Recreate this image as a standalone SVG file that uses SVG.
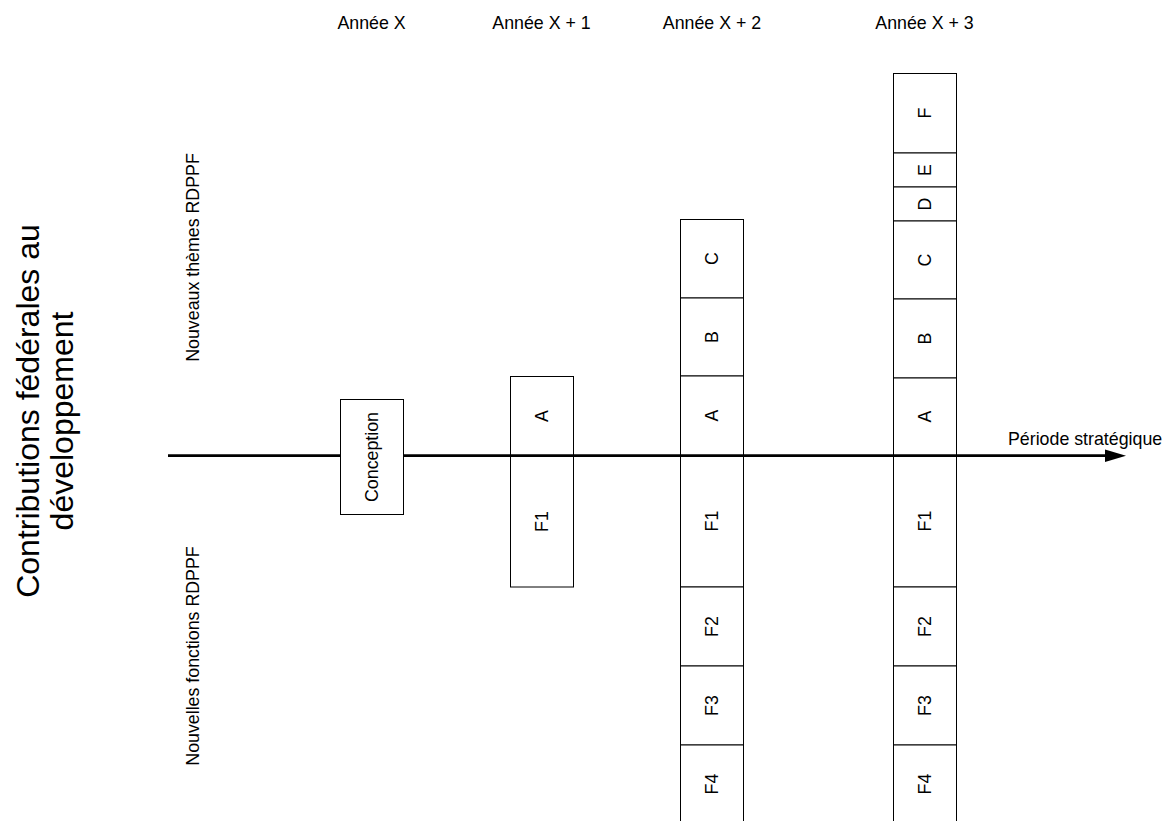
<svg xmlns="http://www.w3.org/2000/svg" width="1171" height="821" viewBox="0 0 1171 821">
<style>
  text { font-family: "Liberation Sans", Arial, sans-serif; fill: #000; }
  .lbl { font-size: 17.8px; text-anchor: middle; }
  .side { font-size: 17.8px; text-anchor: middle; }
  .big { font-size: 32px; text-anchor: middle; }
  .box { fill: #fff; stroke: #000; stroke-width: 1; }
  .axis { stroke: #000; stroke-width: 2.7; fill: none; }
</style>
<rect width="1171" height="821" fill="#fff"/>

<g id="title">
  <text class="big" transform="translate(38.5,411) rotate(-90)">Contributions fédérales au</text>
  <text class="big" transform="translate(73,421) rotate(-90)">développement</text>
</g>
<g id="side-labels">
  <text class="side" transform="translate(198.5,257.5) rotate(-90)">Nouveaux thèmes RDPPF</text>
  <text class="side" transform="translate(198.5,656) rotate(-90)">Nouvelles fonctions RDPPF</text>
</g>
<g id="years">
  <text class="lbl" x="371.5" y="29">Année X</text>
  <text class="lbl" x="541.5" y="29">Année X + 1</text>
  <text class="lbl" x="712" y="29">Année X + 2</text>
  <text class="lbl" x="924.5" y="29">Année X + 3</text>
</g>

<g id="col-x1">
  <g id="x1-A"><rect class="box" x="510.5" y="376.5" width="63" height="79.5"/><text class="lbl" transform="translate(548,416) rotate(-90)">A</text></g>
  <g id="x1-F1"><rect class="box" x="510.5" y="456" width="63" height="131"/><text class="lbl" transform="translate(548,521.5) rotate(-90)">F1</text></g>
</g>

<g id="col-x2">
  <g id="x2-C"><rect class="box" x="680.5" y="219.5" width="63" height="78.5"/><text class="lbl" transform="translate(718,258.5) rotate(-90)">C</text></g>
  <g id="x2-B"><rect class="box" x="680.5" y="298" width="63" height="78"/><text class="lbl" transform="translate(718,337) rotate(-90)">B</text></g>
  <g id="x2-A"><rect class="box" x="680.5" y="376" width="63" height="79.5"/><text class="lbl" transform="translate(718,415.5) rotate(-90)">A</text></g>
  <g id="x2-F1"><rect class="box" x="680.5" y="455.5" width="63" height="131.5"/><text class="lbl" transform="translate(718,521) rotate(-90)">F1</text></g>
  <g id="x2-F2"><rect class="box" x="680.5" y="587" width="63" height="79"/><text class="lbl" transform="translate(718,626.5) rotate(-90)">F2</text></g>
  <g id="x2-F3"><rect class="box" x="680.5" y="666" width="63" height="79"/><text class="lbl" transform="translate(718,705.5) rotate(-90)">F3</text></g>
  <g id="x2-F4"><rect class="box" x="680.5" y="745" width="63" height="90"/><text class="lbl" transform="translate(718,784) rotate(-90)">F4</text></g>
</g>

<g id="col-x3">
  <g id="x3-F"><rect class="box" x="893.5" y="73.5" width="63" height="79.5"/><text class="lbl" transform="translate(931,113) rotate(-90)">F</text></g>
  <g id="x3-E"><rect class="box" x="893.5" y="153" width="63" height="34"/><text class="lbl" transform="translate(931,170) rotate(-90)">E</text></g>
  <g id="x3-D"><rect class="box" x="893.5" y="187" width="63" height="34"/><text class="lbl" transform="translate(931,204) rotate(-90)">D</text></g>
  <g id="x3-C"><rect class="box" x="893.5" y="221" width="63" height="78"/><text class="lbl" transform="translate(931,260) rotate(-90)">C</text></g>
  <g id="x3-B"><rect class="box" x="893.5" y="299" width="63" height="79"/><text class="lbl" transform="translate(931,338.5) rotate(-90)">B</text></g>
  <g id="x3-A"><rect class="box" x="893.5" y="378" width="63" height="77.5"/><text class="lbl" transform="translate(931,416.5) rotate(-90)">A</text></g>
  <g id="x3-F1"><rect class="box" x="893.5" y="455.5" width="63" height="131.5"/><text class="lbl" transform="translate(931,521) rotate(-90)">F1</text></g>
  <g id="x3-F2"><rect class="box" x="893.5" y="587" width="63" height="79"/><text class="lbl" transform="translate(931,626.5) rotate(-90)">F2</text></g>
  <g id="x3-F3"><rect class="box" x="893.5" y="666" width="63" height="79"/><text class="lbl" transform="translate(931,705.5) rotate(-90)">F3</text></g>
  <g id="x3-F4"><rect class="box" x="893.5" y="745" width="63" height="90"/><text class="lbl" transform="translate(931,784) rotate(-90)">F4</text></g>
</g>

<g id="connectors">
  <line class="axis" x1="168" y1="455.7" x2="1107" y2="455.7"/>
  <polygon points="1105,449.5 1126,455.7 1105,462" fill="#000"/>
  <text class="lbl" x="1008" y="445" style="text-anchor:start">Période stratégique</text>
</g>

<g id="conception">
  <rect class="box" x="340.5" y="399.5" width="63" height="115"/>
  <text class="lbl" transform="translate(378,457) rotate(-90)">Conception</text>
</g>
</svg>
